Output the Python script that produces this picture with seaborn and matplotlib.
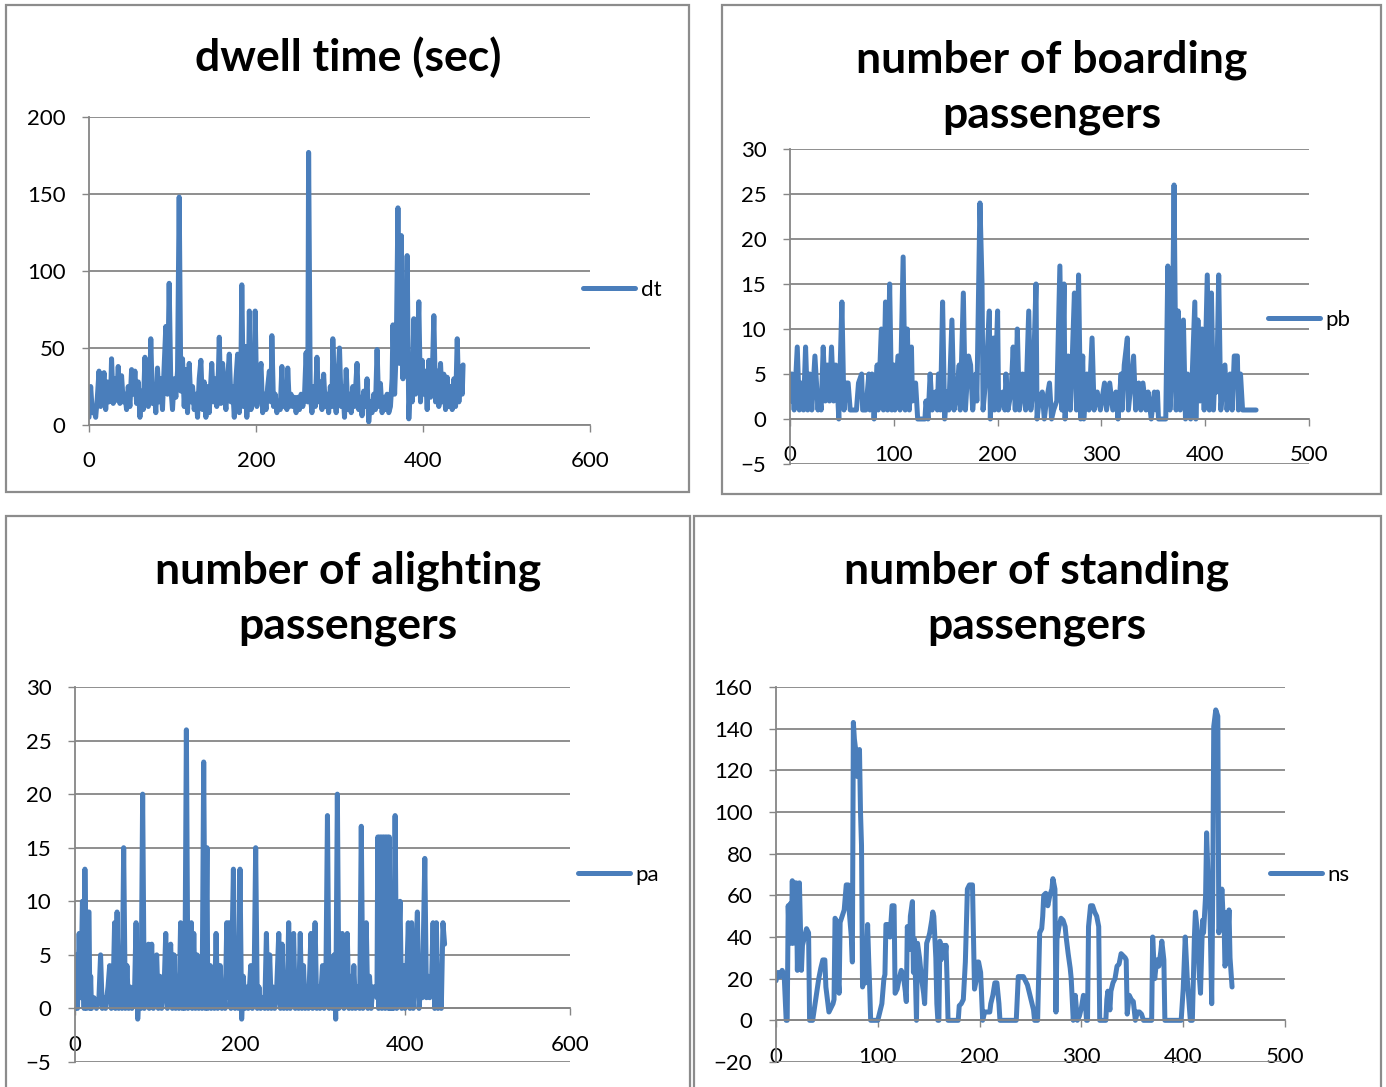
import numpy as np
import pandas as pd
import matplotlib
matplotlib.use("Agg")
import matplotlib.pyplot as plt
from matplotlib.patches import Rectangle
import seaborn as sns

# ---------------- data ----------------
dt_x = [0,2,4,6,8,10,12,14,16,18,20,22,24,26,27,29,31,33,35,37,39,41,43,45,47,49,51,53,55,57,59,61,63,65,67,69,71,73,74,76,78,80,82,84,86,88,90,92,94,96,98,100,102,104,106,108,110,112,114,116,118,120,122,124,126,128,130,132,134,136,138,140,142,144,147,149,151,153,155,156,158,160,162,164,166,168,170,172,174,176,178,180,182,183,185,187,189,191,192,194,196,198,199,201,203,206,208,210,212,214,216,218,219,221,223,225,227,229,231,233,235,237,238,240,242,244,246,248,250,252,254,256,258,260,262,263,265,267,269,271,273,275,277,279,281,283,285,287,289,291,292,294,296,298,300,302,304,306,308,310,312,314,316,318,320,321,323,325,327,329,331,333,335,337,339,341,343,345,347,349,351,353,355,357,359,361,363,364,366,368,370,372,374,376,378,380,381,383,385,387,389,391,393,395,397,399,401,403,405,407,409,411,413,415,417,419,421,423,425,427,429,431,433,435,437,439,441,443,445,447,448]
dt = [5,25,8,10,5,18,35,12,20,34,10,28,15,20,43,14,30,16,38,14,32,15,20,10,25,12,36,20,35,14,28,5,22,10,44,18,12,30,56,14,25,8,37,15,30,10,38,64,20,92,25,10,30,18,35,148,22,43,12,36,8,40,15,25,10,20,5,30,42,10,28,5,25,8,40,15,30,12,35,57,14,40,20,10,30,46,15,25,5,30,46,8,40,91,12,51,5,30,74,10,40,15,74,12,25,40,8,20,10,25,35,15,58,12,20,8,15,10,38,12,22,10,37,12,20,12,18,8,18,10,20,12,18,47,15,177,20,8,25,12,44,15,28,10,33,12,20,8,25,12,56,20,8,30,50,12,25,5,36,10,20,8,25,12,30,40,10,18,6,22,12,30,2,15,8,20,10,49,12,27,8,18,10,20,8,12,30,65,20,50,141,40,123,30,90,45,110,4,30,15,69,20,40,80,15,42,20,35,10,42,18,30,71,15,35,12,40,15,33,10,31,12,25,10,30,12,56,15,38,20,39]

pb_x = [0,1,2,4,7,9,11,13,15,17,19,21,24,27,28,30,32,34,36,38,40,42,44,45,47,50,52,54,56,58,60,62,64,66,69,70,73,76,77,79,81,84,85,88,90,92,94,96,98,100,101,104,106,109,111,113,115,117,118,121,123,126,130,131,133,135,137,140,142,143,145,147,149,151,153,156,158,161,163,164,167,169,172,174,176,179,180,183,185,186,189,192,193,196,197,200,201,205,207,208,210,213,215,217,219,221,224,227,230,232,234,237,238,240,243,245,247,250,252,254,257,260,262,264,265,268,270,272,274,276,278,280,282,283,286,288,291,293,296,299,303,305,308,311,314,316,319,320,322,325,326,331,333,336,338,340,343,345,348,351,353,354,355,360,362,364,366,368,370,372,374,376,379,381,383,386,390,391,393,395,397,399,402,404,406,408,410,411,413,415,419,421,424,426,428,431,432,434,436,449]
pb = [5,2,5,1,8,1,4,1,8,1,5,1,7,1,3,1,8,2,6,2,8,2,6,5,0,13,1,4,4,1,1,1,1,4,5,1,1,5,1,5,0,6,1,10,1,13,1,15,1,6,1,7,1,18,1,10,1,8,2,4,0,0,0,2,0,5,1,3,1,5,1,13,0,3,1,11,1,3,6,1,14,1,7,6,1,5,2,24,15,1,5,12,0,9,1,12,1,3,1,5,1,3,8,1,10,1,5,1,12,1,3,15,0,2,3,0,2,4,0,1,2,17,1,15,0,7,1,7,14,1,16,0,7,0,5,1,9,1,3,1,4,1,4,1,3,0,5,1,6,9,1,7,1,4,1,4,1,3,0,3,1,3,0,0,0,17,1,5,26,1,12,1,11,0,5,0,13,0,11,2,10,1,16,1,14,1,7,3,16,1,6,1,5,1,7,7,1,5,1,1]

pa_x = [0,1,3,5,7,9,11,12,14,16,17,18,19,20,23,26,29,31,33,35,37,40,42,44,46,48,49,51,53,55,57,59,61,63,65,67,69,72,74,76,78,80,82,84,86,89,90,93,95,97,99,101,103,105,108,110,112,114,116,118,120,122,124,126,128,130,132,133,135,137,139,141,142,144,146,148,150,152,154,156,158,160,161,164,165,167,169,171,173,176,178,180,182,184,186,187,189,192,194,196,198,200,202,204,206,208,210,213,215,217,219,221,223,225,228,230,232,234,236,238,240,242,244,247,249,251,253,255,257,259,261,263,265,267,269,271,273,275,277,279,281,283,286,288,291,293,295,297,300,302,304,306,308,310,312,314,316,318,320,322,324,326,328,330,332,334,336,338,340,343,345,347,349,351,353,355,357,359,361,363,366,367,368,369,370,371,372,373,374,375,376,377,378,379,380,381,382,383,384,385,386,388,390,392,394,396,398,400,402,404,406,408,410,412,415,417,419,421,424,426,428,430,432,434,436,438,440,442,444,446,448]
pa = [0,5,0,7,1,10,0,13,0,9,9,0,3,0,1,0,1,5,0,1,0,2,4,0,1,8,0,9,0,3,0,15,0,4,0,2,0,1,8,-1,2,0,20,0,3,6,0,6,0,2,5,0,3,0,2,7,0,4,6,0,5,0,2,0,8,0,3,0,26,0,3,8,0,7,0,5,0,2,0,23,0,15,0,4,0,3,0,7,0,4,0,2,0,8,1,8,0,13,0,3,0,13,-1,3,0,2,0,4,0,2,15,0,2,0,1,0,7,0,5,0,2,0,1,7,0,6,0,3,0,8,0,4,7,0,3,0,7,0,4,0,2,0,7,0,8,0,2,0,4,0,2,18,0,3,0,5,-1,20,0,4,7,0,2,7,0,3,0,4,0,2,0,17,0,3,8,0,3,0,2,2,1,16,0,16,1,16,0,16,2,16,0,16,1,16,0,16,0,10,0,6,0,18,0,5,10,0,4,0,3,8,0,8,0,3,9,0,2,1,14,1,3,1,2,8,0,8,0,3,0,8,6]

ns_x = [0,2,4,6,8,10,11,12,13,14,15,16,17,18,19,20,21,22,23,24,25,26,28,30,32,33,36,39,42,44,46,48,49,52,54,56,57,58,60,61,62,63,65,67,69,71,72,74,75,76,77,78,80,81,82,83,84,85,87,88,90,91,92,93,100,102,104,106,107,108,110,112,114,116,117,119,121,123,125,127,128,129,131,132,134,135,136,138,139,141,143,145,146,148,150,151,153,154,155,157,158,159,160,161,162,163,164,165,166,167,168,169,174,179,180,182,184,186,188,190,193,194,195,197,198,199,201,203,205,208,210,211,213,215,217,219,220,236,237,238,241,243,245,247,249,251,253,254,257,259,261,262,263,265,267,269,271,272,274,275,276,278,280,282,284,285,287,289,290,292,294,296,298,300,302,304,305,306,307,309,311,313,315,317,318,324,325,326,328,329,331,333,335,337,339,341,343,344,345,347,349,351,353,355,357,359,361,369,370,371,372,374,376,378,379,381,382,398,400,402,404,407,409,411,412,414,416,417,419,420,422,423,425,426,428,429,430,432,434,435,436,438,439,440,441,443,445,446,448]
ns = [19,23,21,24,22,0,0,55,38,56,37,67,37,66,60,66,24,50,66,45,24,36,40,44,42,0,0,10,20,25,29,29,16,4,6,8,10,49,47,20,13,47,50,53,65,65,52,40,28,143,135,131,117,125,130,100,84,16,20,18,46,30,16,0,0,4,8,20,22,46,46,40,55,55,13,15,20,24,22,14,9,45,34,50,57,23,39,0,37,30,20,13,8,37,40,42,48,52,50,30,8,0,0,38,29,36,30,36,30,36,20,0,0,0,7,8,10,28,63,65,65,40,15,20,28,28,23,0,4,4,4,8,12,18,18,8,0,0,10,21,21,21,19,17,13,9,5,0,0,42,44,50,60,61,55,60,63,68,63,4,39,45,49,48,45,40,32,25,20,0,12,0,2,6,12,8,0,0,45,55,55,52,50,45,0,0,10,14,5,14,18,20,26,27,32,31,30,29,3,12,10,9,0,4,4,3,0,0,40,30,20,29,26,33,38,29,0,0,15,40,20,0,0,40,52,42,20,13,48,42,60,90,60,60,8,60,141,149,146,42,45,63,52,52,26,30,53,30,16]

panels = [
    dict(title="dwell time (sec)", label="dt", x=dt_x, y=dt,
         xticks=[0, 200, 400, 600], yticks=[0, 50, 100, 150, 200]),
    dict(title="number of boarding\npassengers", label="pb", x=pb_x, y=pb,
         xticks=[0, 100, 200, 300, 400, 500], yticks=[-5, 0, 5, 10, 15, 20, 25, 30]),
    dict(title="number of alighting\npassengers", label="pa", x=pa_x, y=pa,
         xticks=[0, 200, 400, 600], yticks=[-5, 0, 5, 10, 15, 20, 25, 30]),
    dict(title="number of standing\npassengers", label="ns", x=ns_x, y=ns,
         xticks=[0, 100, 200, 300, 400, 500], yticks=[-20, 0, 20, 40, 60, 80, 100, 120, 140, 160]),
]

# ---------------- layout (pixels of the 1386x1087 canvas) ----------------
W, H = 1386, 1087
LINE = "#4a7ebb"
GRID = "#868686"

sns.set_style("white")
plt.rcParams["font.family"] = ["Lato", "DejaVu Sans"]

fig = plt.figure(figsize=(W / 100, H / 100), dpi=100)

def frac_rect(x0, x1, ytop, ybot):
    return [x0 / W, 1 - ybot / H, (x1 - x0) / W, (ybot - ytop) / H]

plot_px = [(89, 590, 117, 425), (790, 1309, 149, 464), (75, 570, 687, 1062), (776, 1285, 687, 1062)]
border_px = [(6, 689, 5, 492), (722, 1381, 5, 494), (6, 690, 516, 1100), (694, 1381, 516, 1100)]
title_px = [(348, 57), (1052, 87), (348, 598), (1037, 598)]
legend_px = [(583, 290), (1268, 320), (578, 875), (1270, 875)]

for p, rect, brd, tpos, lpos in zip(panels, plot_px, border_px, title_px, legend_px):
    bx0, bx1, by0, by1 = brd
    fig.add_artist(Rectangle((bx0 / W, 1 - by1 / H), (bx1 - bx0) / W, (by1 - by0) / H,
                             transform=fig.transFigure, fill=False, ec="#8c8c8c", lw=1.6))
    ax = fig.add_axes(frac_rect(*rect))
    df = pd.DataFrame({"x": p["x"], "y": p["y"]})
    sns.lineplot(data=df, x="x", y="y", ax=ax, color=LINE, linewidth=3.6,
                 sort=False, label=p["label"], solid_joinstyle="round", solid_capstyle="round")
    ax.set_xlim(p["xticks"][0], p["xticks"][-1])
    ax.set_ylim(p["yticks"][0], p["yticks"][-1])
    ax.set_xticks(p["xticks"])
    ax.set_yticks(p["yticks"])
    ax.set_xlabel("")
    ax.set_ylabel("")
    ax.yaxis.grid(True, color=GRID, lw=1.3)
    ax.xaxis.grid(False)
    ax.set_axisbelow(True)
    for s in ("top", "right"):
        ax.spines[s].set_visible(False)
    for s in ("left", "bottom"):
        ax.spines[s].set_color(GRID)
        ax.spines[s].set_linewidth(1.3)
    ax.spines["bottom"].set_position(("data", 0))
    ax.tick_params(axis="y", direction="out", length=5, width=1.0, color=GRID,
                   labelsize=16, labelcolor="black", pad=12, left=True)
    ax.tick_params(axis="x", direction="out", length=5, width=1.0, color=GRID,
                   labelsize=16, labelcolor="black", pad=14, bottom=True)
    ax.patch.set_alpha(0)
    lx, ly = lpos
    ax.legend(loc="center left",
              bbox_to_anchor=((lx - rect[0]) / (rect[1] - rect[0]), (rect[3] - ly) / (rect[3] - rect[2])),
              frameon=False, fontsize=16, handlelength=2.35, handletextpad=0.25,
              borderpad=0, borderaxespad=0, labelcolor="black")
    for lh in ax.get_legend().get_lines():
        lh.set_linewidth(3.6)
        lh.set_solid_capstyle("round")
    fig.text(tpos[0] / W, 1 - tpos[1] / H, p["title"], ha="center", va="center", color="black",
             fontsize=32, fontweight="bold", linespacing=1.45, multialignment="center")

fig.savefig("out.png", dpi=100)
